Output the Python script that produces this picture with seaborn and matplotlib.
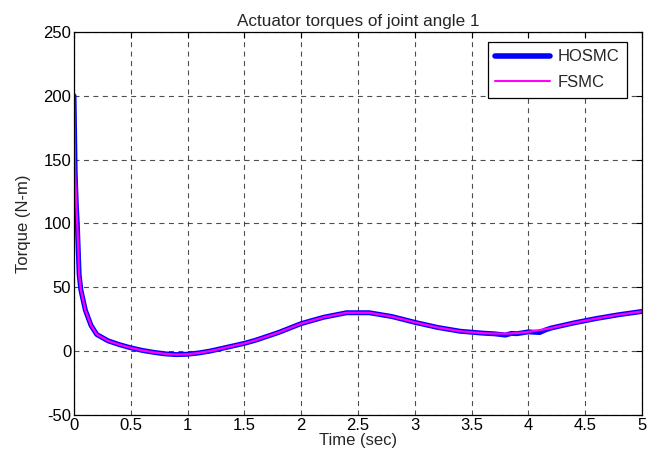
import matplotlib
matplotlib.use("Agg")
import matplotlib.pyplot as plt
import seaborn as sns

sns.set_style("white")
plt.rcParams['font.family'] = ['Liberation Sans', 'DejaVu Sans']
plt.rcParams['axes.unicode_minus'] = False

time_s = [0, 0.01, 0.02, 0.03, 0.045, 0.06, 0.1, 0.15, 0.2, 0.3, 0.4, 0.5, 0.6, 0.7,
          0.8, 0.9, 1.0, 1.1, 1.2, 1.3, 1.4, 1.5, 1.6, 1.8, 2.0, 2.2, 2.4, 2.6, 2.8,
          3.0, 3.2, 3.4, 3.6, 3.7, 3.8, 3.85, 3.9, 4.0, 4.1, 4.15, 4.2, 4.4, 4.6, 4.8, 5.0]
hosmc = [200, 140, 115, 97, 60, 48, 32, 20, 13, 8, 5, 2.5, 0.5, -1,
         -2.2, -2.8, -2.5, -1.5, 0, 2, 4, 6, 8.5, 14.5, 21.5, 26.5, 30, 30, 27,
         22.5, 18.5, 15.5, 14, 13.5, 12.5, 13.8, 13.6, 15, 14.5, 16.5, 18, 22, 25.5, 28.5, 31]
fsmc = [200, 140, 115, 97, 60, 48, 32, 20, 13, 8, 5, 2.5, 0.5, -1,
        -2.2, -2.8, -2.5, -1.5, 0, 2, 4, 6, 8.5, 14.5, 21.5, 26.5, 30, 30, 27,
        22.5, 18.5, 15.5, 14, 13.7, 13.6, 13.8, 14.1, 15, 16.4, 17.2, 18, 22, 25.5, 28.5, 31]

fig = plt.figure(figsize=(6.55, 4.63), dpi=100)
ax = fig.add_axes([0.113, 0.104, 0.867, 0.827])

sns.lineplot(x=time_s, y=hosmc, ax=ax, color='#0000ff', linewidth=3.6, label='HOSMC',
             estimator=None, sort=False)
sns.lineplot(x=time_s, y=fsmc, ax=ax, color='#ff00ff', linewidth=1.6, label='FSMC',
             estimator=None, sort=False)

ax.set_xlim(0, 5)
ax.set_ylim(-50, 250)
ax.set_xticks([0, 0.5, 1, 1.5, 2, 2.5, 3, 3.5, 4, 4.5, 5])
ax.set_xticklabels(['0', '0.5', '1', '1.5', '2', '2.5', '3', '3.5', '4', '4.5', '5'])
ax.set_yticks([-50, 0, 50, 100, 150, 200, 250])
ax.grid(True, color='#222222', linestyle=(0, (4.5, 4)), linewidth=0.8, alpha=0.8)
ax.tick_params(direction='in', length=4, width=0.8, top=True, right=True,
               labelsize=12, colors='black', pad=2)
for s in ax.spines.values():
    s.set_visible(True)
    s.set_color('black')
    s.set_linewidth(0.9)

ax.set_title('Actuator torques of joint angle 1', fontsize=12.3, pad=4)
ax.set_xlabel('Time (sec)', fontsize=12, labelpad=0)
ax.set_ylabel('Torque (N-m)', fontsize=12, labelpad=9)

leg = ax.legend(loc='upper right', bbox_to_anchor=(0.974, 0.974), fontsize=12,
                fancybox=False, framealpha=1, edgecolor='black', handlelength=3.3,
                borderaxespad=0, borderpad=0.45, labelspacing=0.65, handletextpad=0.45)
leg.get_frame().set_linewidth(0.9)
leg.get_lines()[0].set_linewidth(4)
leg.get_lines()[1].set_linewidth(1.5)

fig.savefig('out.png', dpi=100)
